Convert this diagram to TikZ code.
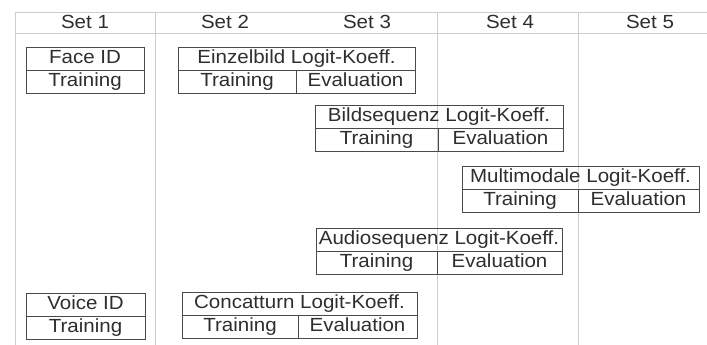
\documentclass[tikz,border=0pt]{standalone}
\usepackage{fontspec}
\setmainfont{Liberation Sans}[FakeStretch=1.08]
\usepackage{tikz}
\usetikzlibrary{positioning}
\definecolor{scanink}{HTML}{2E2E2E}
\definecolor{boxline}{HTML}{4A4A4A}
\definecolor{gridgray}{HTML}{CDCDCD}
\tikzstyle{titlebox} = [rectangle, draw=boxline, line width=0.9pt, outer sep=0pt, inner sep=0pt, minimum height=23pt, text height=13.6pt, text depth=3.4pt, text centered, text=scanink, font=\fontsize{19}{19}\selectfont]
\tikzstyle{cellbox} = [titlebox, anchor=north west]
\tikzstyle{setlabel} = [inner sep=0pt, text=scanink, font=\fontsize{19}{19}\selectfont]
\tikzstyle{gridline} = [draw=gridgray, line width=0.7pt]

\begin{document}
\begin{tikzpicture}[x=1pt, y=-1pt]
    \useasboundingbox (0,0) rectangle (707,345);
    % Set header and column rules
    \draw[gridline] (15,12) -- (707,12);
    \draw[gridline] (15,33) -- (707,33);
    \draw[gridline] (15,12) -- (15,345);
    \draw[gridline] (155,12) -- (155,345);
    \draw[gridline] (437,12) -- (437,345);
    \draw[gridline] (578,12) -- (578,345);
    \node[setlabel] (set1) at (85,22) {Set 1};
    \node[setlabel] (set2) at (225,22) {Set 2};
    \node[setlabel] (set3) at (367,22) {Set 3};
    \node[setlabel] (set4) at (510,22) {Set 4};
    \node[setlabel] (set5) at (650,22) {Set 5};

    % Face ID
    \node[cellbox, minimum width=118pt] (face) at (26,47) {Face ID};
    \node[cellbox, minimum width=118pt] (facetrain) at (face.south west) {Training};

    % Einzelbild
    \node[cellbox, minimum width=237pt] (einzel) at (178,47) {Einzelbild Logit-Koeff.};
    \node[cellbox, minimum width=118pt] (einzeltrain) at (einzel.south west) {Training};
    \node[cellbox, minimum width=119pt] (einzeleval) at (einzeltrain.north east) {Evaluation};

    % Bildsequenz
    \node[cellbox, minimum width=248pt] (bildseq) at (315,105) {Bildsequenz Logit-Koeff.};
    \node[cellbox, minimum width=123pt] (bildseqtrain) at (bildseq.south west) {Training};
    \node[cellbox, minimum width=125pt] (bildseqeval) at (bildseqtrain.north east) {Evaluation};

    % Multimodale
    \node[cellbox, minimum width=237pt] (multi) at (462,166) {Multimodale Logit-Koeff.};
    \node[cellbox, minimum width=116pt] (multitrain) at (multi.south west) {Training};
    \node[cellbox, minimum width=121pt] (multieval) at (multitrain.north east) {Evaluation};

    % Audiosequenz
    \node[cellbox, minimum width=246pt] (audioseq) at (316,228) {Audiosequenz Logit-Koeff.};
    \node[cellbox, minimum width=121pt] (audioseqtrain) at (audioseq.south west) {Training};
    \node[cellbox, minimum width=125pt] (audioseqeval) at (audioseqtrain.north east) {Evaluation};

    % Voice ID
    \node[cellbox, minimum width=119pt] (voice) at (26,293) {Voice ID};
    \node[cellbox, minimum width=119pt] (voicetrain) at (voice.south west) {Training};

    % Concatturn
    \node[cellbox, minimum width=235pt] (concat) at (182,292) {Concatturn Logit-Koeff.};
    \node[cellbox, minimum width=116pt] (concattrain) at (concat.south west) {Training};
    \node[cellbox, minimum width=119pt] (concateval) at (concattrain.north east) {Evaluation};
\end{tikzpicture}
\end{document}
